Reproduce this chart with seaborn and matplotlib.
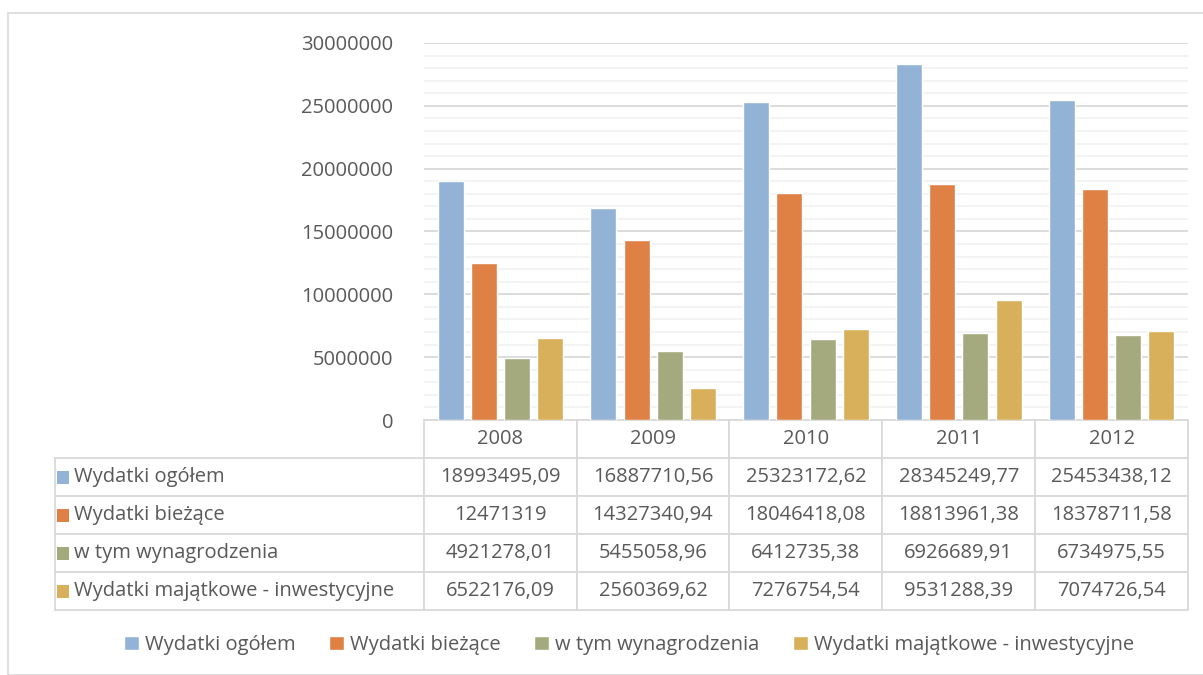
import numpy as np
import pandas as pd
import matplotlib
matplotlib.use('Agg')
import matplotlib.pyplot as plt
import seaborn as sns
from matplotlib.patches import Rectangle

# dane
lata = ['2008', '2009', '2010', '2011', '2012']
serie = ['Wydatki ogółem', 'Wydatki bieżące', 'w tym wynagrodzenia',
         'Wydatki majątkowe - inwestycyjne']
wydatki_ogolem = [18993495.09, 16887710.56, 25323172.62, 28345249.77, 25453438.12]
wydatki_biezace = [12471319, 14327340.94, 18046418.08, 18813961.38, 18378711.58]
wynagrodzenia = [4921278.01, 5455058.96, 6412735.38, 6926689.91, 6734975.55]
majatkowe = [6522176.09, 2560369.62, 7276754.54, 9531288.39, 7074726.54]
kolory = ['#93B3D6', '#DF8045', '#A5AA7E', '#D8B05C']

wartosci = [wydatki_ogolem, wydatki_biezace, wynagrodzenia, majatkowe]
df = pd.DataFrame([
    {'Rok': r, 'Seria': s, 'Wartosc': v}
    for s, vals in zip(serie, wartosci) for r, v in zip(lata, vals)
])

sns.set_style('white')
plt.rcParams['font.family'] = ['Open Sans', 'DejaVu Sans']
szary = '#595959'
rozmiar = 14.5

W, H = 1203, 675
fig = plt.figure(figsize=(W / 100, H / 100), dpi=100)

# ramka wykresu
fig.patches.append(Rectangle((8 / W, 0), 1.2, 1 - 13 / H, transform=fig.transFigure,
                             fill=False, edgecolor='#D9D9D9', linewidth=1.2))

ax = fig.add_axes([424 / W, 1 - 420 / H, (1188 - 424) / W, (420 - 43) / H])
sns.barplot(data=df, x='Rok', y='Wartosc', hue='Seria', palette=kolory,
            width=0.87, gap=0.22, ax=ax, legend=True, saturation=1, errorbar=None)
ax.set_ylim(0, 30000000)
ax.set_xlim(-0.5, 4.5)
ax.set_yticks(np.arange(0, 30000001, 5000000))
ax.set_yticks(np.arange(0, 30000001, 1000000), minor=True)
ax.yaxis.set_major_formatter(matplotlib.ticker.FuncFormatter(lambda v, p: f'{int(v)}'))
ax.grid(axis='y', which='major', color='#D9D9D9', linewidth=1.3)
ax.grid(axis='y', which='minor', color='#F2F2F2', linewidth=1.3)
ax.set_axisbelow(True)
ax.tick_params(axis='y', which='both', length=0, labelsize=rozmiar, labelcolor=szary, pad=22)
ax.set_xticks([])
ax.set_xlabel('')
ax.set_ylabel('')
for s in ax.spines.values():
    s.set_visible(False)

uchwyty, etykiety = ax.get_legend_handles_labels()
ax.get_legend().remove()

# tabela danych
def fmt(v):
    if float(v).is_integer():
        return f'{int(v)}'
    return f'{v:.2f}'.replace('.', ',')

tekst = [[s] + [fmt(v) for v in vals] for s, vals in zip(serie, wartosci)]
px = 764
szer = [369] + [153] * 5
tab = ax.table(cellText=tekst, colLabels=[''] + lata, colWidths=szer,
               bbox=[(55 - 424) / px, -190 / 377, (1188 - 55) / px, 190 / 377],
               cellLoc='center')
tab.auto_set_font_size(False)
for (r, c), cell in tab.get_celld().items():
    cell.set_edgecolor('#D9D9D9')
    cell.set_linewidth(1.3)
    cell.get_text().set_fontsize(rozmiar)
    cell.get_text().set_color(szary)
    if r == 0 and c == 0:
        cell.visible_edges = ''
    if c == 0 and r > 0:
        cell._loc = 'left'
        cell.get_text().set_horizontalalignment('left')
        cell.PAD = 19 / 369

# kolorowe kwadraty w tabeli
wys = 190 / 5
for i, k in enumerate(kolory):
    yc = 1 - (420 + wys * (i + 1.5)) / H
    fig.patches.append(Rectangle((57 / W, yc - 6.5 / H), 12 / W, 13 / H,
                                 transform=fig.transFigure, facecolor=k, edgecolor='none'))

fig.legend(uchwyty, etykiety, loc='center', bbox_to_anchor=(629 / W, 1 - 645 / H),
           ncol=4, frameon=False, fontsize=rozmiar, handlelength=0.75, handleheight=0.75,
           handletextpad=0.3, columnspacing=1.65, labelcolor=szary)

fig.savefig('out.png', dpi=100)
